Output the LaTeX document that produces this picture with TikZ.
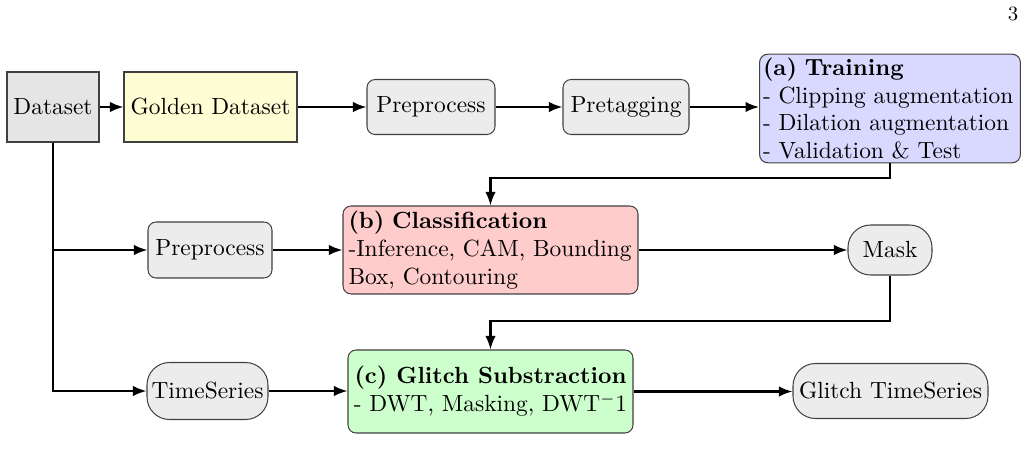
\documentclass[tikz,border=0pt]{standalone}
\usetikzlibrary{arrows.meta,calc}
\def\pxu{0.4444pt}
\tikzset{
  box/.style={draw=black!75, line width=0.45pt, inner sep=2pt, font=\fontsize{10.4}{12.4}\selectfont},
  sqbox/.style={box, rectangle},
  rbox/.style={box, rounded corners=3.6pt},
  pill/.style={box, rounded corners=10pt, fill=gray!15},
  arr/.style={line width=0.9pt, -{Latex[length=6pt,width=4.6pt]}},
}
\begin{document}
\begin{tikzpicture}[x=\pxu,y=-\pxu]
\clip (0,0) rectangle (1029,457);
\useasboundingbox (0,0) rectangle (1029,457);

\node[font=\fontsize{9}{10}\selectfont] (pg) at (1013,14) {3};

\node[sqbox, fill=gray!20, minimum width={92*\pxu}, minimum height={70*\pxu}] (ds) at (53,107) {Dataset};
\node[sqbox, fill=yellow!17, minimum width={173*\pxu}, minimum height={70*\pxu}] (gd) at (210.5,107) {Golden Dataset};
\node[rbox, fill=gray!15, minimum width={128*\pxu}, minimum height={55*\pxu}] (pp1) at (431,107) {Preprocess};
\node[rbox, fill=gray!15, minimum width={126*\pxu}, minimum height={55*\pxu}] (pt) at (626,107) {Pretagging};
\node[rbox, fill=blue!15, minimum width={260*\pxu}, minimum height={103*\pxu}, text width={254*\pxu}, align=left, inner sep=1.5pt] (tr) at (890,108.5)
  {\textbf{(a) Training}\\- Clipping augmentation\\- Dilation augmentation\\- Validation \& Test};

\node[rbox, fill=gray!15, minimum width={124*\pxu}, minimum height={56*\pxu}] (pp2) at (210,250) {Preprocess};
\node[rbox, fill=red!20, minimum width={295*\pxu}, minimum height={88*\pxu}, text width={284*\pxu}, align=left] (cl) at (490.5,250)
  {\textbf{(b) Classification}\\-Inference, CAM, Bounding\\Box, Contouring};
\node[pill, minimum width={84*\pxu}, minimum height={50*\pxu}] (mk) at (890,250) {Mask};

\node[pill, minimum width={121*\pxu}, minimum height={57*\pxu}] (ts) at (207.5,391) {TimeSeries};
\node[rbox, fill=green!20, minimum width={285*\pxu}, minimum height={83*\pxu}, align=center] (gs) at (490.5,391.5)
  {\textbf{(c) Glitch Substraction}\\- DWT, Masking, DWT$^{-}$1};
\node[pill, minimum width={195*\pxu}, minimum height={55*\pxu}] (gts) at (890.5,391) {Glitch TimeSeries};

\coordinate (y1) at (0,178);
\coordinate (y2) at (0,321);

\draw[arr] (ds.east) -- (gd.west);
\draw[arr] (gd.east) -- (pp1.west);
\draw[arr] (pp1.east) -- (pt.west);
\draw[arr] (pt.east) -- (pt.east -| tr.west);
\draw[arr] (tr.south) |- (y1 -| cl.north) -- (cl.north);
\draw[arr] (ds.south) |- (pp2.west);
\draw[arr] (ds.south) |- (ts.west);
\draw[arr] (pp2.east) -- (cl.west);
\draw[arr] (cl.east) -- (mk.west);
\draw[arr] (mk.south) |- (y2 -| gs.north) -- (gs.north);
\draw[arr] (ts.east) -- (ts.east -| gs.west);
\draw[arr] (gs.east) -- (gs.east -| gts.west);
\end{tikzpicture}
\end{document}
